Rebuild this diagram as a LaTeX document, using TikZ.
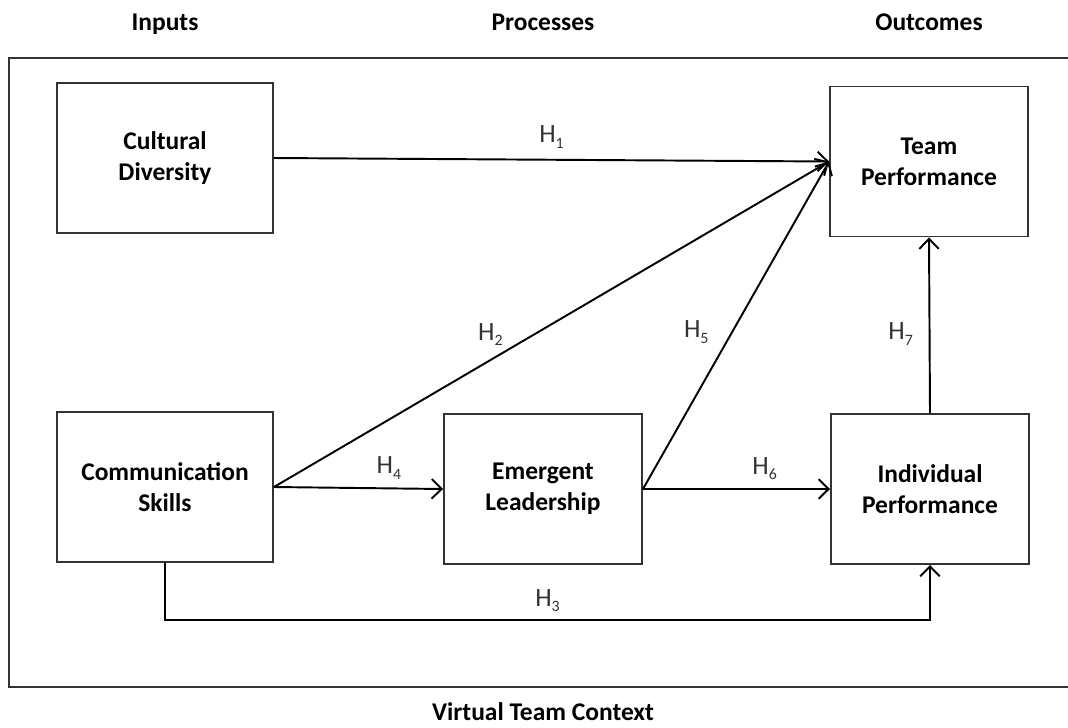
\documentclass[tikz,border=0pt]{standalone}
\usepackage{fontspec}
\setmainfont{Carlito}
\usetikzlibrary{arrows.meta}

\newcommand{\boxfont}{\fontsize{14.5}{17.6}\selectfont\bfseries}
\newcommand{\hfont}{\fontsize{15}{18}\selectfont}
\newcommand{\hyp}[1]{H\raisebox{-3.2pt}{\fontsize{9}{9}\selectfont #1}}

\begin{document}
\begin{tikzpicture}[>={Straight Barb[length=2mm,width=3.9mm]}, line width=1.1pt,
  box/.style={draw=black!80, minimum height=3cm, align=center, font=\boxfont},
  wide/.style={minimum width=4.32cm},
  narrow/.style={minimum width=3.96cm},
  heading/.style={font=\boxfont, text height=1.5ex, text depth=0.4ex},
  hlabel/.style={inner sep=0pt, font=\hfont, text=black!80}]
\useasboundingbox (-3.3,3.16) rectangle (18.06,-11.38);
\node[name=cult_div, box, wide]{Cultural\\Diversity};
\node[name=comm_skills, box, wide, below of=cult_div, node distance=6.58cm]{Communication\\Skills};
\node[name=team_perf, box, narrow, right of=cult_div, node distance=15.28cm, yshift=-0.07cm]{Team\\Performance};
\node[name=emerg_lead, box, narrow, right of=comm_skills, node distance=7.56cm, yshift=-0.04cm]{Emergent\\Leadership};
\node[name=indiv_perf, box, narrow, right of=emerg_lead, node distance=7.74cm]{Individual\\Performance};
\node[name=inputs, heading, above of=cult_div, node distance=2.64cm]{Inputs};
\node[name=processes, heading, above of=emerg_lead, node distance=9.26cm]{Processes};
\node[name=outcomes, heading, above of=team_perf, node distance=2.71cm]{Outcomes};
\node[name=vt_context, heading, below of=emerg_lead, node distance=4.54cm]{Virtual Team Context};
\coordinate[name=h3_turn, below of=comm_skills, node distance=2.66cm];

% context frame, open to the right
\draw[black!80] (18.06,2.0) -- (-3.12,2.0) -- (-3.12,-10.58) -- (18.06,-10.58);

\draw(cult_div.east) edge[->]node[hlabel, above=6pt]{\hyp{1}}(team_perf.west);
\draw(comm_skills.east) edge[->]node[hlabel, pos=0.39, above=7.6pt]{\hyp{2}}(team_perf.west);
\draw(comm_skills.east) edge[->]node[hlabel, pos=0.68, above=4.6pt]{\hyp{4}}(emerg_lead.west);
\draw(emerg_lead.east) edge[->]node[hlabel, pos=0.48, left=13pt]{\hyp{5}}(team_perf.west);
\draw(emerg_lead.east) edge[->]node[hlabel, pos=0.65, above=4.6pt]{\hyp{6}}(indiv_perf.west);
\draw(indiv_perf.north) edge[->]node[hlabel, pos=0.45, left=9pt]{\hyp{7}}(team_perf.south);
\draw[->](comm_skills.south) -- (h3_turn) -| node[hlabel, pos=0.25, above=4pt]{\hyp{3}}(indiv_perf.south);
\end{tikzpicture}
\end{document}
